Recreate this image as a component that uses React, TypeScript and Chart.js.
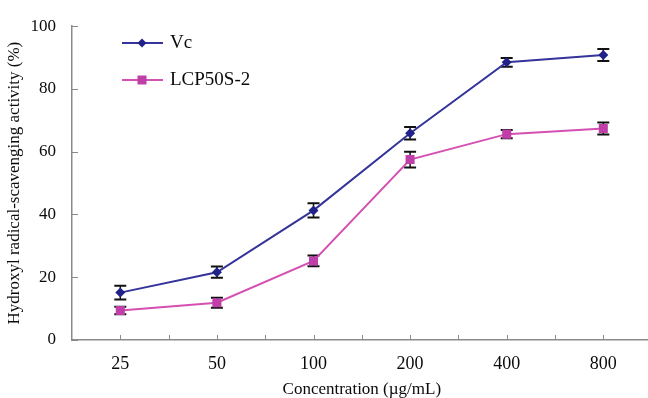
import React, { useEffect, useRef } from 'react';
import { Chart, registerables } from 'chart.js';

Chart.register(...registerables);

const categories = ['25', '50', '100', '200', '400', '800'];
const vcValues = [15.1, 21.6, 41.3, 65.9, 88.5, 90.8];
const vcErrors = [2.2, 1.8, 2.3, 2.0, 1.4, 1.9];
const lcpValues = [9.4, 11.9, 25.2, 57.5, 65.6, 67.4];
const lcpErrors = [1.2, 1.6, 1.7, 2.5, 1.3, 1.9];
const yTicks = [0, 20, 40, 60, 80, 100];

const FONT = "'Liberation Serif', 'Times New Roman', serif";
const VC_LINE = '#34349a';
const VC_MARK = '#20228a';
const LCP_LINE = '#d450b2';
const LCP_MARK = '#c03ea8';
const AXIS = '#8a8a8a';
const TEXT = '#0a0a0a';

const errorBars = [vcErrors, lcpErrors];

const errorBarPlugin = {
  id: 'errorBars',
  beforeDatasetsDraw(chart: any) {
    const ctx = chart.ctx;
    const y = chart.scales.y;
    ctx.save();
    ctx.strokeStyle = '#111';
    chart.data.datasets.forEach((ds: any, di: number) => {
      const meta = chart.getDatasetMeta(di);
      meta.data.forEach((pt: any, i: number) => {
        const v = ds.data[i];
        const e = errorBars[di][i];
        const top = y.getPixelForValue(v + e);
        const bot = y.getPixelForValue(v - e);
        ctx.lineWidth = 1.5;
        ctx.beginPath();
        ctx.moveTo(pt.x, top);
        ctx.lineTo(pt.x, bot);
        ctx.stroke();
        ctx.lineWidth = 2;
        ctx.beginPath();
        ctx.moveTo(pt.x - 6, top);
        ctx.lineTo(pt.x + 6, top);
        ctx.moveTo(pt.x - 6, bot);
        ctx.lineTo(pt.x + 6, bot);
        ctx.stroke();
      });
    });
    ctx.restore();
  },
};

const ticksPlugin = {
  id: 'innerTicks',
  afterDraw(chart: any) {
    const ctx = chart.ctx;
    const { x, y } = chart.scales;
    const area = chart.chartArea;
    ctx.save();
    ctx.strokeStyle = AXIS;
    ctx.lineWidth = 1;
    ctx.beginPath();
    yTicks.forEach((t) => {
      const py = Math.round(y.getPixelForValue(t)) + 0.5;
      ctx.moveTo(area.left, py);
      ctx.lineTo(area.left + 6, py);
    });
    const n = categories.length;
    const step = (area.right - area.left) / n;
    for (let i = 1; i <= n; i++) {
      const bx = Math.round(area.left + i * step) + 0.5;
      ctx.moveTo(bx, area.bottom);
      ctx.lineTo(bx, area.bottom - 5);
    }
    categories.forEach((_, i) => {
      const cx = Math.round(x.getPixelForValue(i)) + 0.5;
      ctx.moveTo(cx, area.bottom);
      ctx.lineTo(cx, area.bottom - 5);
    });
    ctx.stroke();
    ctx.restore();
  },
};

const legendPlugin = {
  id: 'customLegend',
  afterDraw(chart: any) {
    const ctx = chart.ctx;
    const items = [
      { label: 'Vc', line: VC_LINE, mark: VC_MARK, shape: 'diamond', y: 43 },
      { label: 'LCP50S-2', line: LCP_LINE, mark: LCP_MARK, shape: 'square', y: 80 },
    ];
    ctx.save();
    items.forEach((it) => {
      ctx.strokeStyle = it.line;
      ctx.lineWidth = 2;
      ctx.beginPath();
      ctx.moveTo(122, it.y);
      ctx.lineTo(163, it.y);
      ctx.stroke();
      ctx.fillStyle = it.mark;
      ctx.beginPath();
      if (it.shape === 'diamond') {
        ctx.moveTo(142, it.y - 4.5);
        ctx.lineTo(146.5, it.y);
        ctx.lineTo(142, it.y + 4.5);
        ctx.lineTo(137.5, it.y);
        ctx.closePath();
      } else {
        ctx.rect(137.5, it.y - 4.5, 9, 9);
      }
      ctx.fill();
      ctx.fillStyle = TEXT;
      ctx.font = `19px ${FONT}`;
      ctx.textBaseline = 'middle';
      ctx.textAlign = 'left';
      ctx.fillText(it.label, 170, it.y);
    });
    ctx.restore();
  },
};

export default function App() {
  const ref = useRef<HTMLCanvasElement | null>(null);

  useEffect(() => {
    if (!ref.current) return;
    const chart = new Chart(ref.current, {
      type: 'line',
      data: {
        labels: categories,
        datasets: [
          {
            label: 'Vc',
            data: vcValues,
            borderColor: VC_LINE,
            backgroundColor: VC_MARK,
            borderWidth: 2,
            pointStyle: 'rectRot',
            pointRadius: 5,
            pointBorderWidth: 0,
            pointBackgroundColor: VC_MARK,
            tension: 0,
          },
          {
            label: 'LCP50S-2',
            data: lcpValues,
            borderColor: LCP_LINE,
            backgroundColor: LCP_MARK,
            borderWidth: 2,
            pointStyle: 'rect',
            pointRadius: 6.4,
            pointBorderWidth: 0,
            pointBackgroundColor: LCP_MARK,
            tension: 0,
          },
        ],
      },
      options: {
        responsive: false,
        animation: false,
        devicePixelRatio: 1,
        layout: { padding: { top: 20, right: 0, left: 0, bottom: 0 } },
        plugins: {
          legend: { display: false },
          tooltip: { enabled: false },
        },
        scales: {
          x: {
            type: 'category',
            offset: true,
            grid: { display: false, drawTicks: false },
            border: { display: true, color: AXIS, width: 1.5 },
            ticks: { font: { family: FONT, size: 18 }, color: TEXT, padding: 13, maxRotation: 0 },
            title: {
              display: true,
              text: 'Concentration (µg/mL)',
              font: { family: FONT, size: 17, lineHeight: 1 },
              color: TEXT,
              padding: { top: 0, bottom: 0 },
            },
            afterFit: (s: any) => {
              s.height = 58;
              s.paddingLeft = 0;
              s.paddingRight = 0;
            },
          },
          y: {
            min: 0,
            max: 100,
            grid: { display: false, drawTicks: false },
            border: { display: true, color: AXIS, width: 1.5 },
            ticks: {
              stepSize: 20,
              font: { family: FONT, size: 17 },
              color: TEXT,
              padding: 16,
            },
            afterBuildTicks: (s: any) => {
              s.ticks = yTicks.map((v) => ({ value: v }));
            },
            title: {
              display: true,
              text: 'Hydroxyl radical-scavenging activity (%)',
              font: { family: FONT, size: 17, lineHeight: 1 },
              color: TEXT,
              padding: { top: 6, bottom: 0 },
            },
            afterFit: (s: any) => {
              s.width = 72;
            },
          },
        },
      },
      plugins: [errorBarPlugin, ticksPlugin, legendPlugin],
    });
    return () => chart.destroy();
  }, []);

  return (
    <div style={{ position: 'fixed', left: 0, top: 0, width: 648, height: 398, overflow: 'hidden', background: '#fff' }}>
      <canvas ref={ref} width={658} height={398} style={{ display: 'block' }} />
    </div>
  );
}
